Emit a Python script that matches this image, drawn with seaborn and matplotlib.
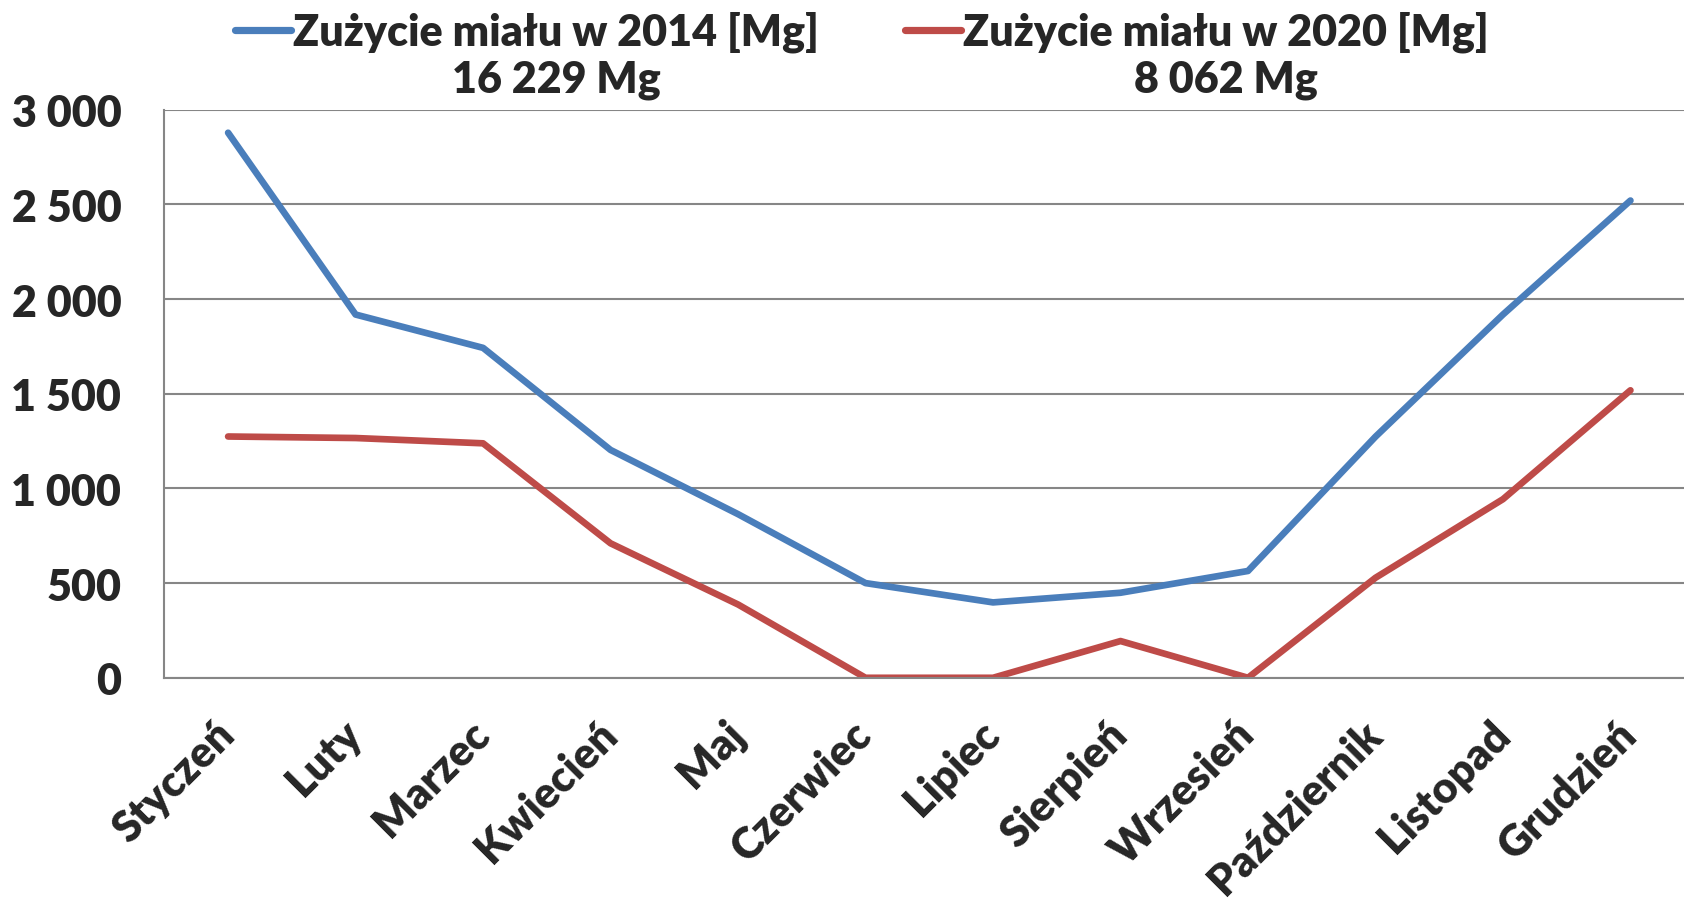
import numpy as np
import pandas as pd
import matplotlib
matplotlib.use('Agg')
import matplotlib.pyplot as plt
from matplotlib.lines import Line2D
import seaborn as sns

# data
months = ['Styczeń', 'Luty', 'Marzec', 'Kwiecień', 'Maj', 'Czerwiec',
          'Lipiec', 'Sierpień', 'Wrzesień', 'Październik', 'Listopad', 'Grudzień']
usage_2014 = [2878, 1918, 1742, 1203, 864, 500, 398, 449, 564, 1273, 1918, 2520]
usage_2020 = [1274, 1266, 1238, 710, 387, 0, 0, 194, 0, 528, 943, 1518]
series_labels = ['Zużycie miału w 2014 [Mg]', 'Zużycie miału w 2020 [Mg]']
series_totals = ['16 229 Mg', '8 062 Mg']
y_ticks = [0, 500, 1000, 1500, 2000, 2500, 3000]
y_tick_labels = ['0', '500', '1 000', '1 500', '2 000', '2 500', '3 000']

colors = {series_labels[0]: '#4A7EBB', series_labels[1]: '#BE4B48'}
grid_color = '#868686'
fs = 31
fw = 'heavy'
lw = 4.8

df = pd.DataFrame({
    'x': list(range(len(months))) * 2,
    'value': usage_2014 + usage_2020,
    'series': [series_labels[0]] * len(months) + [series_labels[1]] * len(months),
})

sns.set_style('white')
plt.rcParams['font.family'] = ['Lato', 'DejaVu Sans']
plt.rcParams['font.weight'] = fw

fig = plt.figure(figsize=(16.84, 9.03), dpi=100)
ax = fig.add_axes([0.0976, 0.2483, 0.9024, 0.6292])

sns.lineplot(data=df, x='x', y='value', hue='series', palette=colors,
             sort=False, legend=False, ax=ax)
for line in ax.lines:
    line.set_linewidth(lw)
    line.set_solid_capstyle('round')
    line.set_solid_joinstyle('round')

ax.set_xlim(-0.5, 11.42)
ax.set_ylim(0, 3000)
ax.set_xlabel('')
ax.set_ylabel('')

ax.set_xticks(range(len(months)))
ax.set_xticklabels(months, rotation=45, ha='right', va='center',
                   rotation_mode='anchor', fontsize=fs, fontweight=fw)
ax.set_yticks(y_ticks)
ax.set_yticklabels(y_tick_labels, fontsize=fs, fontweight=fw)

ax.tick_params(axis='x', direction='inout', length=15, width=1.5,
               color=grid_color, pad=28)
ax.tick_params(axis='y', direction='out', length=10, width=1.5,
               color=grid_color, pad=21)

ax.yaxis.grid(True, color=grid_color, linewidth=1.5)
ax.xaxis.grid(False)
for side in ['top', 'right']:
    ax.spines[side].set_visible(False)
for side in ['left', 'bottom']:
    ax.spines[side].set_color(grid_color)
    ax.spines[side].set_linewidth(1.5)

handles = [Line2D([0], [0], color=colors[s], linewidth=lw + 0.4, solid_capstyle='round')
           for s in series_labels]
leg = fig.legend(handles, series_labels, loc='center', bbox_to_anchor=(0.512, 0.964),
                 ncol=2, frameon=False, handlelength=1.3, handletextpad=0.05,
                 columnspacing=2.0, prop={'size': fs, 'weight': fw})

# totals centred under each legend label
fig.canvas.draw()
renderer = fig.canvas.get_renderer()
for txt, total in zip(leg.get_texts(), series_totals):
    bb = txt.get_window_extent(renderer)
    cx = (bb.x0 + bb.x1) / 2 / fig.bbox.width
    fig.text(cx, 0.911, total, ha='center', va='center', fontsize=fs, fontweight=fw)

plt.savefig('out.png', dpi=100)
